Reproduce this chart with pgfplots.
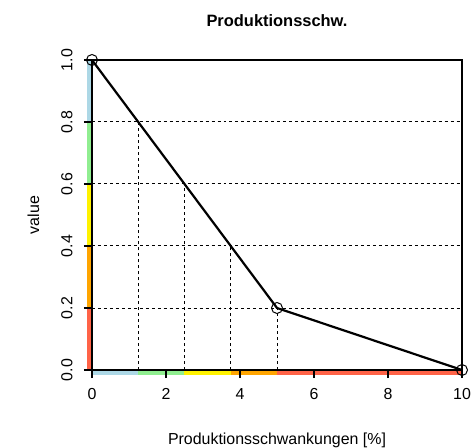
\documentclass[border=0pt]{standalone}
\usepackage{pgfplots}
\pgfplotsset{compat=1.18}
\usepackage{fontspec}
\setmainfont{Liberation Sans}
\definecolor{rlblue}{HTML}{ADD8E6}
\definecolor{rlgreen}{HTML}{90EE90}
\definecolor{rorange}{HTML}{FFA500}
\definecolor{rtomato}{HTML}{FF6347}
\begin{document}
\begin{tikzpicture}
\begin{axis}[
    scale only axis,
    width=370bp, height=310bp,
    xmin=0, xmax=10, ymin=0, ymax=1,
    clip=false,
    axis on top,
    axis line style={line width=1.3bp, black},
    xtick={0,2,4,6,8,10},
    ytick={0,0.2,0.4,0.6,0.8,1.0},
    yticklabel style={rotate=90, anchor=south, font=\fontsize{16}{18}\selectfont, /pgf/number format/fixed, /pgf/number format/fixed zerofill, /pgf/number format/precision=1},
    xticklabel style={font=\fontsize{16}{18}\selectfont},
    /pgf/number format/assume math mode=true,
    tick align=outside,
    tickwidth=8bp,
    major tick style={line width=1.3bp, black},
    xtick pos=bottom, ytick pos=left,
    xticklabel shift=7bp, yticklabel shift=8bp,
    xlabel={Produktionsschwankungen [\%]},
    ylabel={value},
    xlabel style={font=\fontsize{16}{18}\selectfont, yshift=-26bp},
    ylabel style={font=\fontsize{16}{18}\selectfont, yshift=15bp},
    title={\textbf{Produktionsschw.}},
    title style={font=\fontsize{16.5}{18}\selectfont, yshift=24bp},
]
\coordinate (O) at (rel axis cs:0,0);
% dashed guide lines
\addplot[black, dashed, line width=1bp] coordinates {(0,0.2) (10,0.2)};
\addplot[black, dashed, line width=1bp] coordinates {(0,0.4) (10,0.4)};
\addplot[black, dashed, line width=1bp] coordinates {(0,0.6) (10,0.6)};
\addplot[black, dashed, line width=1bp] coordinates {(0,0.8) (10,0.8)};
\addplot[black, dashed, line width=1bp] coordinates {(1.25,0) (1.25,0.8)};
\addplot[black, dashed, line width=1bp] coordinates {(2.5,0) (2.5,0.6)};
\addplot[black, dashed, line width=1bp] coordinates {(3.75,0) (3.75,0.4)};
\addplot[black, dashed, line width=1bp] coordinates {(5,0) (5,0.2)};
% coloured strips along the y axis
\addplot[rtomato, line width=4bp, xshift=-2.7bp] coordinates {(0,0) (0,0.2)};
\addplot[rorange, line width=4bp, xshift=-2.7bp] coordinates {(0,0.2) (0,0.4)};
\addplot[yellow, line width=4bp, xshift=-2.7bp] coordinates {(0,0.4) (0,0.6)};
\addplot[rlgreen, line width=4bp, xshift=-2.7bp] coordinates {(0,0.6) (0,0.8)};
\addplot[rlblue, line width=4bp, xshift=-2.7bp] coordinates {(0,0.8) (0,1)};
% coloured strips along the x axis
\addplot[rlblue, line width=4bp, yshift=-2.7bp] coordinates {(0,0) (1.25,0)};
\addplot[rlgreen, line width=4bp, yshift=-2.7bp] coordinates {(1.25,0) (2.5,0)};
\addplot[yellow, line width=4bp, yshift=-2.7bp] coordinates {(2.5,0) (3.75,0)};
\addplot[rorange, line width=4bp, yshift=-2.7bp] coordinates {(3.75,0) (5,0)};
\addplot[rtomato, line width=4bp, yshift=-2.7bp] coordinates {(5,0) (10,0)};
% plot box
\addplot[black, line width=1.3bp] coordinates {(0,0) (10,0) (10,1) (0,1) (0,0)};
% membership function
\addplot[black, line width=2.2bp, mark=o, mark size=5.5bp, mark options={line width=1bp}] coordinates {
    (0,1) (5,0.2) (10,0)
};
\end{axis}
\pgfresetboundingbox
\path (O) ++(-92bp,-78bp) rectangle ++(475bp,448bp);
\end{tikzpicture}
\end{document}
